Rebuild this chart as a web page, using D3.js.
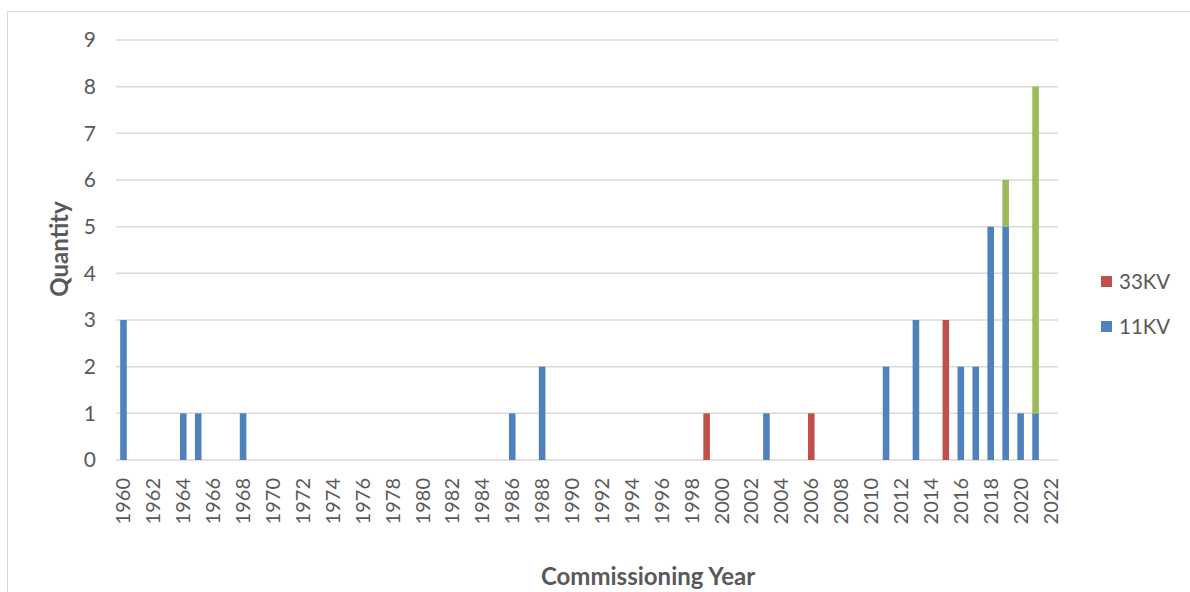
<!DOCTYPE html>
<html>
<head>
<meta charset="utf-8">
<script src="https://cdn.jsdelivr.net/npm/d3@7"></script>
<style>
  html, body { margin: 0; padding: 0; background: #fff; }
  svg { display: block; }
  text { font-family: Lato, "Open Sans", sans-serif; fill: #595959; }
</style>
</head>
<body>
<svg id="chart" width="1190" height="592"></svg>
<script>
// Commissioning years 1960–2022
const years = d3.range(1960, 2023).map(String);

// Units commissioned per year, by voltage
const kv11 = {1960: 3, 1964: 1, 1965: 1, 1968: 1, 1986: 1, 1988: 2, 2003: 1,
              2011: 2, 2013: 3, 2016: 2, 2017: 2, 2018: 5, 2019: 5, 2020: 1, 2021: 1};
const kv33 = {1999: 1, 2006: 1, 2015: 3};
const other = {2019: 1, 2021: 7};

const seriesKeys = ["11KV", "33KV", "other"];
const seriesColors = ["#4f81bd", "#c0504d", "#9bbb59"];
const legendKeys = ["33KV", "11KV"];
const yTicks = d3.range(0, 10);
const xTickLabels = years.filter((y, i) => i % 2 === 0);

const rows = years.map(y => ({
  year: y,
  "11KV": kv11[y] || 0,
  "33KV": kv33[y] || 0,
  "other": other[y] || 0
}));

const svg = d3.select("#chart");
const FONT = "Lato, 'Open Sans', sans-serif";

// chart area frame
svg.append("rect")
  .attr("x", 7.5).attr("y", 11.5)
  .attr("width", 1200).attr("height", 600)
  .attr("fill", "none").attr("stroke", "#d9d9d9").attr("stroke-width", 1);

const x = d3.scaleBand().domain(years).range([116, 1058]).paddingInner(0.56).paddingOuter(0.28);
const y = d3.scaleLinear().domain([0, 9]).range([460, 40]);
const color = d3.scaleOrdinal().domain(seriesKeys).range(seriesColors);

// horizontal gridlines
svg.append("g")
  .selectAll("line")
  .data(yTicks)
  .join("line")
  .attr("x1", 116).attr("x2", 1058)
  .attr("y1", d => y(d)).attr("y2", d => y(d))
  .attr("stroke", "#d9d9d9").attr("stroke-width", 1.5);

// y axis labels
const yAxis = d3.axisLeft(y).tickValues(yTicks).tickSize(0).tickPadding(20);
svg.append("g")
  .attr("transform", "translate(116,0)")
  .call(yAxis)
  .call(g => g.select(".domain").remove())
  .call(g => g.selectAll("text")
    .attr("font-size", 21).attr("fill", "#595959")
    .style("font-family", FONT));

// stacked bars
const stacked = d3.stack().keys(seriesKeys)(rows);
svg.append("g")
  .selectAll("g")
  .data(stacked)
  .join("g")
  .attr("fill", d => color(d.key))
  .selectAll("rect")
  .data(d => d.filter(p => p[1] > p[0]))
  .join("rect")
  .attr("x", d => x(d.data.year))
  .attr("width", x.bandwidth())
  .attr("y", d => y(d[1]))
  .attr("height", d => y(d[0]) - y(d[1]));

// x axis labels, rotated
const xAxis = d3.axisBottom(x).tickValues(xTickLabels).tickSize(0).tickPadding(0);
svg.append("g")
  .attr("transform", "translate(0,460)")
  .call(xAxis)
  .call(g => g.select(".domain").remove())
  .call(g => g.selectAll("text")
    .attr("font-size", 20).attr("fill", "#595959")
    .style("font-family", FONT)
    .attr("transform", "rotate(-90)")
    .attr("text-anchor", "end")
    .attr("dy", "0.35em")
    .attr("x", -18)
    .attr("y", 0));

// axis titles
svg.append("text")
  .attr("transform", "translate(68,249) rotate(-90)")
  .attr("text-anchor", "middle")
  .attr("font-size", 24).attr("font-weight", "bold")
  .text("Quantity");

svg.append("text")
  .attr("x", 648).attr("y", 585)
  .attr("text-anchor", "middle")
  .attr("font-size", 24).attr("font-weight", "bold")
  .text("Commissioning Year");

// legend
const legend = svg.append("g")
  .selectAll("g")
  .data(legendKeys)
  .join("g")
  .attr("transform", (d, i) => `translate(1101,${276 + i * 45})`);
legend.append("rect")
  .attr("width", 11).attr("height", 11)
  .attr("fill", d => color(d));
legend.append("text")
  .attr("x", 18).attr("y", 5.5).attr("dy", "0.36em")
  .attr("font-size", 20.5)
  .text(d => d);
</script>
</body>
</html>
